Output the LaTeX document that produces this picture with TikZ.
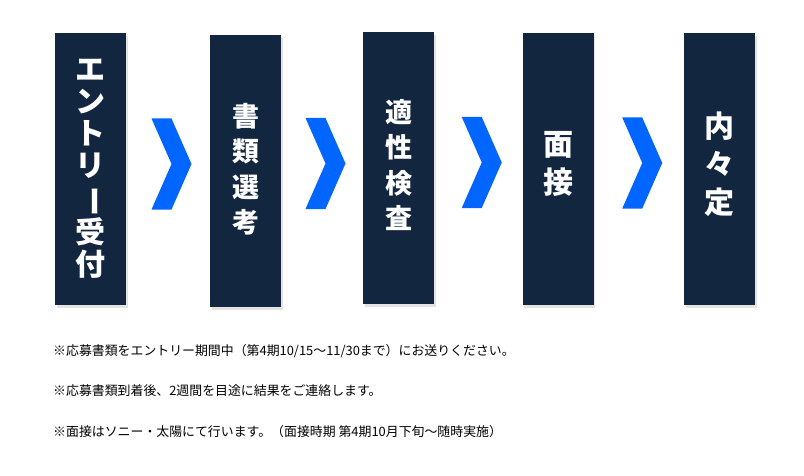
\documentclass[tikz,border=0pt]{standalone}
\usepackage{fontspec}
\usepackage{tikz}
\usetikzlibrary{positioning, shadows}
\usetikzlibrary{calc}
\newfontfamily\jp{Noto Sans CJK JP}
\definecolor{navy}{HTML}{12263F}
\definecolor{chevblue}{HTML}{0066FF}

\begin{document}
\begin{tikzpicture}[x=1pt, y=1pt, on grid,
    stepbox/.style={fill=navy, minimum width=71pt, minimum height=272pt, inner sep=0pt,
        drop shadow={shadow xshift=1.5pt, shadow yshift=-3pt, opacity=.22}},
    steptext/.style={text=white, inner sep=0pt, align=center},
    note/.style={anchor=west, inner sep=0pt, font=\jp\fontsize{12.9}{14}\selectfont}]
    \useasboundingbox (0,0) rectangle (804,475);
    % Define steps
    \node[stepbox] (entry) at (90.5,306) {};
    \node[stepbox] (shorui) [right=155pt of entry, yshift=-2pt] {};
    \node[stepbox] (tekisei) [right=153pt of shorui, yshift=3pt] {};
    \node[stepbox] (mensetsu) [right=159.5pt of tekisei, yshift=-1pt] {};
    \node[stepbox] (naitei) [right=161.5pt of mensetsu] {};

    % Define step texts
    \node[steptext, font=\jp\fontsize{30}{32}\selectfont\bfseries] (entrytext) at (entry)
        {エ\\ン\\ト\\リ\\\rotatebox[origin=c]{-90}{ー}\\受\\付};
    \node[steptext, font=\jp\fontsize{27}{35.5}\selectfont\bfseries] (shoruitext) at ([yshift=2pt]shorui)
        {書\\類\\選\\考};
    \node[steptext, font=\jp\fontsize{27}{35.5}\selectfont\bfseries] (tekiseitext) at ([yshift=3pt]tekisei)
        {適\\性\\検\\査};
    \node[steptext, font=\jp\fontsize{30}{38}\selectfont\bfseries] (mensetsutext) at ([yshift=5pt]mensetsu)
        {面\\接};
    \node[steptext, font=\jp\fontsize{30}{38}\selectfont\bfseries] (naiteitext) at ([yshift=5pt]naitei)
        {内\\々\\定};

    % Define chevrons
    \foreach \a/\b in {entry/shorui, shorui/tekisei, tekisei/mensetsu, mensetsu/naitei}
        \fill[chevblue] ($(\a.east)!0.5!(\b.west)+(3.5,6)$)
            +(-20,45.5) -- +(0,45.5) -- +(20,0) -- +(0,-45.5) -- +(-20,-45.5) -- +(0,0) -- cycle;

    % Define notes
    \node[note] (note1) at (53,124) {※応募書類をエントリー期間中（第4期10/15～11/30まで）にお送りください。};
    \node[note, below=40pt of note1.west, anchor=west] (note2) {※応募書類到着後、2週間を目途に結果をご連絡します。};
    \node[note, below=41pt of note2.west, anchor=west] (note3) {※面接はソニー・太陽にて行います。（面接時期 第4期10月下旬～随時実施）};
\end{tikzpicture}
\end{document}
